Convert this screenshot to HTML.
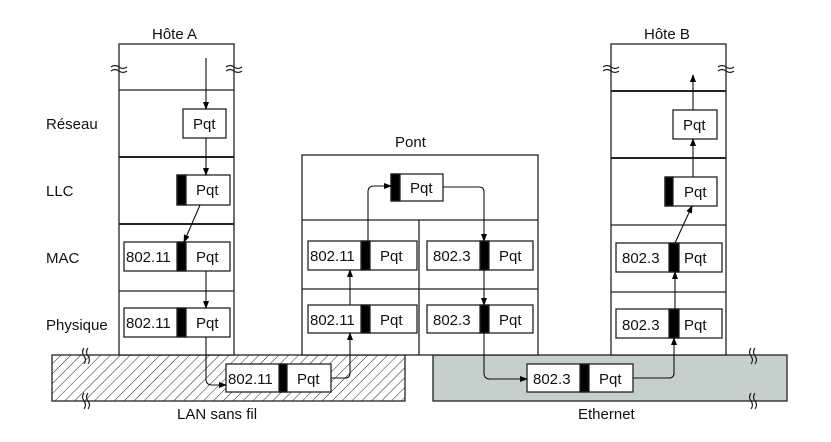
<!DOCTYPE html>
<html><head><meta charset="utf-8"><style>
body{margin:0;background:#fff}
text{font-family:"Liberation Sans",sans-serif;font-size:15px;fill:#111}
</style></head><body>
<svg width="831" height="437" viewBox="0 0 831 437" xmlns="http://www.w3.org/2000/svg">
<defs>
<marker id="a" markerWidth="8" markerHeight="8" refX="7" refY="4" orient="auto" markerUnits="userSpaceOnUse"><path d="M0,1 L8,4 L0,7 z" fill="#000"/></marker>
<pattern id="h" width="7" height="7" patternUnits="userSpaceOnUse" patternTransform="rotate(45)"><rect width="7" height="7" fill="#fff"/><line x1="0" y1="0" x2="0" y2="7" stroke="#222" stroke-width="1"/></pattern>
</defs>
<g stroke="#222" stroke-width="1.3" fill="none">
<rect x="52" y="355" width="353" height="46" fill="url(#h)"/>
<rect x="433" y="355" width="354" height="46" fill="#c5cfcc"/>
<rect x="119" y="44" width="115" height="311" fill="#fff"/>
<line x1="119" y1="90" x2="234" y2="90"/><line x1="119" y1="157" x2="234" y2="157" stroke-width="2"/>
<line x1="119" y1="224" x2="234" y2="224" stroke-width="2"/><line x1="119" y1="291" x2="234" y2="291"/>
<rect x="611" y="44" width="115" height="311" fill="#fff"/>
<line x1="611" y1="91" x2="726" y2="91" stroke-width="2"/><line x1="611" y1="158" x2="726" y2="158" stroke-width="2"/>
<line x1="611" y1="225" x2="726" y2="225"/><line x1="611" y1="292" x2="726" y2="292"/>
<rect x="302" y="155" width="236" height="200" fill="#fff"/>
<line x1="302" y1="220" x2="538" y2="220"/><line x1="302" y1="289" x2="538" y2="289"/>
<line x1="419" y1="220" x2="419" y2="355"/>
</g>
<g stroke="#222" stroke-width="1.2" fill="none">
<path d="M111,67 q4,-3 8,0 q4,3 8,0 M111,71 q4,-3 8,0 q4,3 8,0"/>
<path d="M226,67 q4,-3 8,0 q4,3 8,0 M226,71 q4,-3 8,0 q4,3 8,0"/>
<path d="M603,67 q4,-3 8,0 q4,3 8,0 M603,71 q4,-3 8,0 q4,3 8,0"/>
<path d="M718,67 q4,-3 8,0 q4,3 8,0 M718,71 q4,-3 8,0 q4,3 8,0"/>
<path d="M84,348 q-3,4 0,8 q3,4 0,8 M88,348 q-3,4 0,8 q3,4 0,8"/>
<path d="M84,393 q-3,4 0,8 q3,4 0,8 M88,393 q-3,4 0,8 q3,4 0,8"/>
<path d="M751,348 q-3,4 0,8 q3,4 0,8 M755,348 q-3,4 0,8 q3,4 0,8"/>
<path d="M751,393 q-3,4 0,8 q3,4 0,8 M755,393 q-3,4 0,8 q3,4 0,8"/>
</g>
<g stroke="#222" stroke-width="1.3">
<rect x="183" y="109" width="43" height="29" fill="#fff"/>
<rect x="177" y="175" width="53" height="30" fill="#fff"/><rect x="177" y="175" width="9" height="30" fill="#000"/>
<rect x="124" y="242" width="106" height="29" fill="#fff"/><rect x="177" y="242" width="9" height="29" fill="#000"/>
<rect x="124" y="308" width="106" height="29" fill="#fff"/><rect x="177" y="308" width="9" height="29" fill="#000"/>
<rect x="226" y="364" width="105" height="28" fill="#fff"/><rect x="279" y="364" width="8" height="28" fill="#000"/>
<rect x="391" y="174" width="52" height="27" fill="#fff"/><rect x="391" y="174" width="9" height="27" fill="#000"/>
<rect x="308" y="241" width="109" height="29" fill="#fff"/><rect x="361" y="241" width="9" height="29" fill="#000"/>
<rect x="308" y="305" width="109" height="28" fill="#fff"/><rect x="361" y="305" width="9" height="28" fill="#000"/>
<rect x="427" y="241" width="106" height="29" fill="#fff"/><rect x="480" y="241" width="9" height="29" fill="#000"/>
<rect x="427" y="305" width="106" height="28" fill="#fff"/><rect x="480" y="305" width="9" height="28" fill="#000"/>
<rect x="527" y="364" width="106" height="28" fill="#fff"/><rect x="580" y="364" width="9" height="28" fill="#000"/>
<rect x="673" y="110" width="44" height="29" fill="#fff"/>
<rect x="665" y="177" width="52" height="29" fill="#fff"/><rect x="665" y="177" width="8" height="29" fill="#000"/>
<rect x="616" y="243" width="106" height="29" fill="#fff"/><rect x="669" y="243" width="10" height="29" fill="#000"/>
<rect x="616" y="309" width="106" height="29" fill="#fff"/><rect x="669" y="309" width="10" height="29" fill="#000"/>
</g>
<g stroke="#111" stroke-width="1.1" fill="none" marker-end="url(#a)">
<line x1="206" y1="58" x2="206" y2="109"/>
<line x1="206" y1="138" x2="206" y2="175"/>
<line x1="200" y1="205" x2="184" y2="242"/>
<line x1="206" y1="271" x2="206" y2="308"/>
<path d="M206,337 V379 q0,6 6,6 H226"/>
<path d="M331,378 H345 q5,0 5,-5 V333"/>
<line x1="350" y1="305" x2="350" y2="270"/>
<path d="M368,241 V192 q0,-6 6,-6 H391"/>
<path d="M443,187 H479 q5,0 5,5 V241"/>
<line x1="484" y1="270" x2="484" y2="305"/>
<path d="M484,333 V373 q0,6 6,6 H527"/>
<path d="M633,378 H669 q5,0 5,-5 V338"/>
<line x1="675" y1="309" x2="675" y2="272"/>
<line x1="675" y1="243" x2="692" y2="206"/>
<line x1="693" y1="177" x2="693" y2="139"/>
<line x1="693" y1="110" x2="693" y2="75"/>
</g>
<g>
<text x="152" y="39">Hôte A</text>
<text x="644" y="39">Hôte B</text>
<text x="395" y="147">Pont</text>
<text x="46" y="129">Réseau</text>
<text x="46" y="196">LLC</text>
<text x="46" y="263">MAC</text>
<text x="46" y="330">Physique</text>
<text x="193" y="129">Pqt</text>
<text x="196" y="195">Pqt</text>
<text x="126" y="262">802.11</text><text x="196" y="262">Pqt</text>
<text x="126" y="328">802.11</text><text x="196" y="328">Pqt</text>
<text x="228" y="384">802.11</text><text x="297" y="384">Pqt</text>
<text x="410" y="193">Pqt</text>
<text x="310" y="261">802.11</text><text x="380" y="261">Pqt</text>
<text x="310" y="325">802.11</text><text x="380" y="325">Pqt</text>
<text x="433" y="261">802.3</text><text x="499" y="261">Pqt</text>
<text x="433" y="325">802.3</text><text x="499" y="325">Pqt</text>
<text x="533" y="384">802.3</text><text x="599" y="384">Pqt</text>
<text x="683" y="130">Pqt</text>
<text x="684" y="197">Pqt</text>
<text x="622" y="263">802.3</text><text x="684" y="263">Pqt</text>
<text x="622" y="330">802.3</text><text x="684" y="330">Pqt</text>
<text x="177" y="419">LAN sans fil</text>
<text x="578" y="419">Ethernet</text>
</g>
</svg>
</body></html>
